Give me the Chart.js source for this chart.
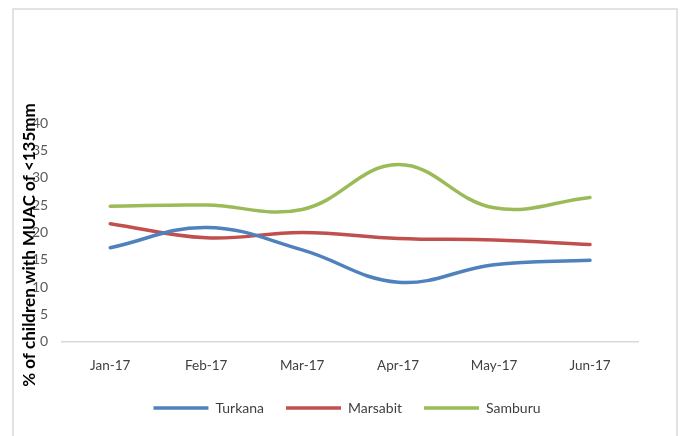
<!DOCTYPE html>
<html>
<head>
<meta charset="utf-8">
<script src="https://cdn.jsdelivr.net/npm/chart.js@4/dist/chart.umd.min.js"></script>
<style>
  html, body { margin: 0; padding: 0; background: #fff; }
  #wrap { width: 680px; height: 436px; position: relative; }
</style>
</head>
<body>
<div id="wrap"><canvas id="muac"></canvas></div>
<script>
const months = ['Jan-17', 'Feb-17', 'Mar-17', 'Apr-17', 'May-17', 'Jun-17'];
const turkana = [17.2, 20.9, 16.8, 10.9, 14.1, 14.9];
const marsabit = [21.6, 19.0, 20.0, 18.9, 18.6, 17.8];
const samburu = [24.8, 25.0, 24.2, 32.4, 24.5, 26.4];
const yTitle = '% of children with MUAC of <135mm';

const fontFam = 'Lato, "Open Sans", sans-serif';

// light frame round the chart, open at the bottom
const frame = {
  id: 'frame',
  beforeDraw(chart) {
    const c = chart.ctx;
    c.save();
    c.strokeStyle = '#d9d9d9';
    c.lineWidth = 1.5;
    c.beginPath();
    c.moveTo(13, 440);
    c.lineTo(13, 9);
    c.lineTo(677, 9);
    c.lineTo(677, 440);
    c.stroke();
    c.restore();
  }
};

// axis title drawn over the tick labels
const sideTitle = {
  id: 'sideTitle',
  afterDraw(chart) {
    const c = chart.ctx;
    c.save();
    c.translate(30, 245);
    c.rotate(-Math.PI / 2);
    c.font = 'bold 17px ' + fontFam;
    c.fillStyle = '#000';
    c.textAlign = 'center';
    c.textBaseline = 'middle';
    c.fillText(yTitle, 0, 0);
    c.restore();
  }
};

// nudge the legend a little right and up
const legendShift = {
  id: 'legendShift',
  afterLayout(chart) {
    const lg = chart.legend;
    lg.left += 19; lg.right += 19;
    lg.top -= 11; lg.bottom -= 11;
  }
};

function line(label, data, color) {
  return {
    label: label,
    data: data,
    borderColor: color,
    backgroundColor: color,
    borderWidth: 3.5,
    tension: 0.4,
    pointRadius: 0,
    borderCapStyle: 'round',
    fill: false
  };
}

new Chart(document.getElementById('muac'), {
  type: 'line',
  data: {
    labels: months,
    datasets: [
      line('Turkana', turkana, '#4f81bd'),
      line('Marsabit', marsabit, '#c0504d'),
      line('Samburu', samburu, '#9bbb59')
    ]
  },
  options: {
    responsive: true,
    maintainAspectRatio: false,
    animation: false,
    layout: { padding: { left: 18, right: 42, top: 123, bottom: 0 } },
    plugins: {
      tooltip: { enabled: false },
      legend: {
        position: 'bottom',
        labels: {
          usePointStyle: true,
          pointStyle: 'line',
          pointStyleWidth: 55,
          boxHeight: 12,
          padding: 22,
          color: '#404040',
          font: { family: fontFam, size: 14 }
        }
      }
    },
    scales: {
      x: {
        offset: true,
        grid: { display: false, drawTicks: false },
        border: { display: true, color: '#d9d9d9', width: 1.5 },
        ticks: { color: '#404040', padding: 16, font: { family: fontFam, size: 13.5 } }
      },
      y: {
        min: 0,
        max: 40,
        grid: { display: false, drawTicks: false },
        border: { display: false },
        ticks: { stepSize: 5, color: '#595959', padding: 14, font: { family: fontFam, size: 14 } }
      }
    }
  },
  plugins: [frame, sideTitle, legendShift]
});
</script>
</body>
</html>
